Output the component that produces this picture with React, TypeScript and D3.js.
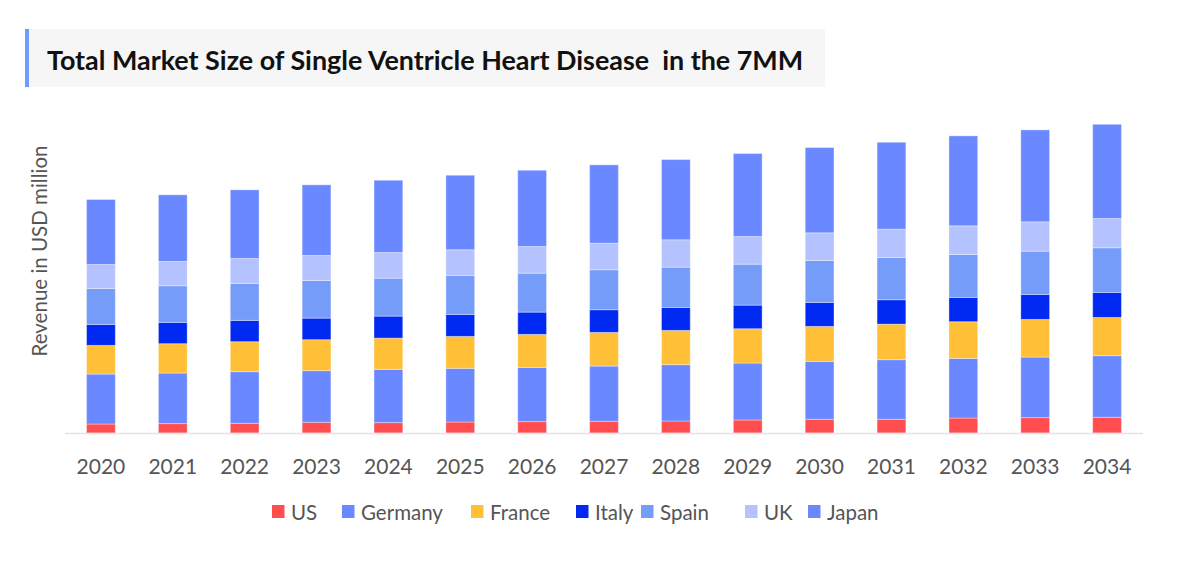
import { scaleBand, scaleLinear, stack } from "d3";

const years = ["2020", "2021", "2022", "2023", "2024", "2025", "2026", "2027", "2028", "2029", "2030", "2031", "2032", "2033", "2034"];
const countries = ["US", "Germany", "France", "Italy", "Spain", "UK", "Japan"];
const colors = ["#ff4d50", "#6a88ff", "#ffc038", "#0029f2", "#759cf8", "#b4c2ff", "#6a88ff"];

// revenue (USD million)
const us = [9, 9.4, 9.7, 10.7, 10.4, 11, 11.4, 11.7, 12, 13, 13.7, 13.7, 15, 15.4, 15.7];
const germany = [50, 50.6, 51.7, 51.7, 53.3, 53.7, 54.3, 55.3, 56.4, 57, 58, 59.7, 59.7, 60.6, 61.7];
const france = [28.7, 29.4, 30, 31, 31.3, 32, 33, 33.7, 34.3, 34.4, 35, 35.6, 36.7, 37.7, 38.3];
const italy = [21, 21.3, 21.3, 21.6, 22, 22, 22.3, 22.7, 23, 23.6, 24, 24.4, 24.3, 25, 25];
const spain = [36, 36.7, 37, 37.7, 38, 39, 39, 40, 40.3, 41, 42, 42.3, 43, 43.3, 44.7];
const uk = [24, 24.3, 25, 25, 25.7, 25.7, 26.7, 26.6, 27.4, 27.7, 27.7, 28.3, 28.7, 29.4, 29.3];
const japan = [65, 66.7, 68.7, 70.7, 72.3, 74.6, 76.3, 78.4, 80.3, 83, 85.3, 87, 90, 92, 94.3];

const series = [us, germany, france, italy, spain, uk, japan];

const rows = years.map((y, i) => {
  const r: Record<string, number | string> = { year: y };
  countries.forEach((c, j) => (r[c] = series[j][i]));
  return r;
});

export default function App() {
  const width = 1200;
  const height = 564;
  const baseline = 433;

  const x = scaleBand().domain(years).range([65, 1143]).paddingInner(0.6).paddingOuter(0.3);
  const y = scaleLinear().domain([0, 309.3]).range([baseline, 124]);
  const stacked = stack<any>().keys(countries)(rows);

  const legendX = [272, 342, 471, 576, 641, 745, 808];
  const font = "Lato, 'Open Sans', sans-serif";

  return (
    <svg width={width} height={height} style={{ position: "absolute", left: 0, top: 0, background: "#fff" }} fontFamily={font}>
      {/* Title */}
      <rect x={25} y={29} width={800} height={58} fill="#f6f6f6" />
      <rect x={25} y={29} width={4} height={58} fill="#6f9bff" />
      <text x={47} y={70} fontSize={26.9} fontWeight={700} fill="#111" style={{ whiteSpace: "pre" }}>
        Total Market Size of Single Ventricle Heart Disease  in the 7MM
      </text>

      {/* Y label */}
      <text transform="translate(47,251) rotate(-90)" textAnchor="middle" fontSize={20.5} fill="#555">
        Revenue in USD million
      </text>

      {/* Bars */}
      {stacked.map((s, j) => (
        <g key={s.key} fill={colors[j]}>
          {s.map((d, i) => (
            <rect
              key={i}
              x={x(years[i])!}
              y={y(d[1])}
              width={x.bandwidth()}
              height={y(d[0]) - y(d[1])}
              stroke="rgba(255,255,255,0.35)"
              strokeWidth={1}
            />
          ))}
        </g>
      ))}

      {/* Axis line */}
      <line x1={65} x2={1143} y1={baseline + 0.5} y2={baseline + 0.5} stroke="#e3e3e3" strokeWidth={1.5} />

      {years.map((yr) => (
        <text key={yr} x={x(yr)! + x.bandwidth() / 2} y={474} textAnchor="middle" fontSize={21} fill="#555">
          {yr}
        </text>
      ))}

      {/* Legend */}
      {countries.map((c, j) => (
        <g key={c}>
          <rect x={legendX[j]} y={505} width={12.5} height={13} fill={colors[j]} />
          <text x={legendX[j] + 19} y={520} fontSize={20.5} fill="#555">
            {c}
          </text>
        </g>
      ))}
    </svg>
  );
}
